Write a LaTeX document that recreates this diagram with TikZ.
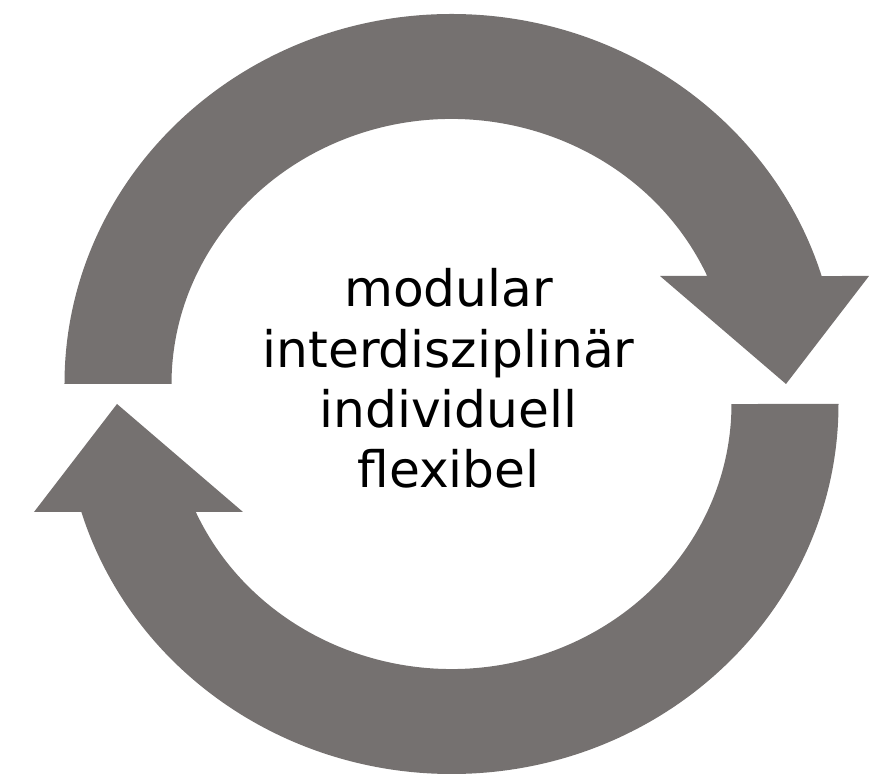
\documentclass[tikz,border=0pt]{standalone}
\usepackage{fontspec}
\usepackage{xcolor}
\usepackage{tikz}
\usetikzlibrary{positioning,calc}
\newfontfamily\wordfont{DejaVu Sans}
\definecolor{arrowgray}{RGB}{117,113,112}
\tikzset{
	cyclearrow/.style={fill=arrowgray, draw=none},
	centertext/.style={align=center, inner sep=0, font=\wordfont\fontsize{14.3}{17.2}\selectfont}
}

\begin{document}
\begin{tikzpicture}
	\useasboundingbox (-4.515,-3.80) rectangle (4.175,3.94);
	% two half-ring arrows, the second one turned by 180 degrees
	\foreach \rot in {0,180}{
		\path[cyclearrow, rotate=\rot] (-3.87,0.1) arc[start angle=180, end angle=16.97, x radius=3.87, y radius=3.70]
			-- (4.175,1.18) -- (3.345,0.1) -- (2.085,1.18) -- (2.557,1.18)
			arc[start angle=24.05, end angle=180, x radius=2.80, y radius=2.65] -- cycle;
	}
	\node[centertext] (words) at (-0.03,0.155) {modular\\interdisziplinär\\individuell\\flexibel};
\end{tikzpicture}
\end{document}
